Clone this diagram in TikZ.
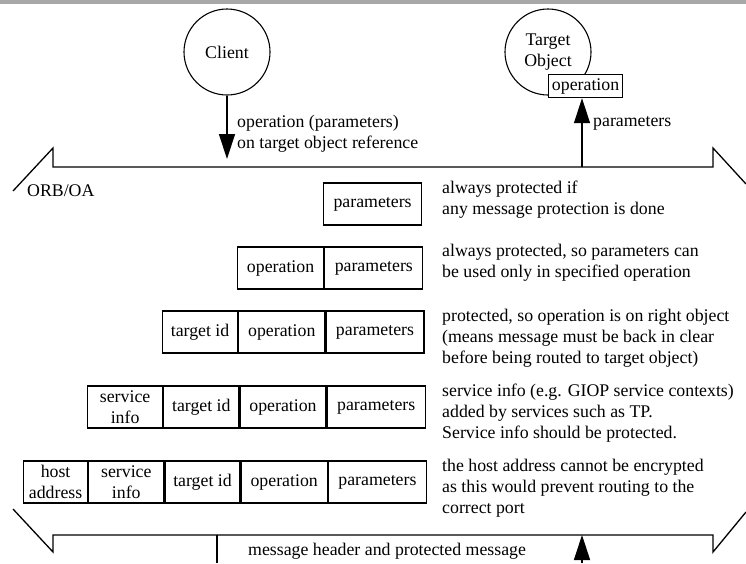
\documentclass[tikz,border=0pt]{standalone}
\usepackage{fontspec}
\setmainfont{Liberation Serif}
\newfontfamily\timesfont{Liberation Serif}
\usetikzlibrary{arrows.meta}
\definecolor{bargray}{RGB}{168,168,168}
\tikzset{
  every node/.style={font=\timesfont\fontsize{17.8}{21}\selectfont, inner sep=0pt},
  cell/.style={draw, line width=1.2pt, minimum height=42pt, align=center, anchor=west},
  note/.style={align=left, anchor=west},
  band/.style={line width=1.3pt},
  flow/.style={line width=1.3pt, -{Triangle[length=25pt,width=16pt]}},
  party/.style={draw, circle, line width=1.1pt, minimum size=86pt, align=center},
}
\begin{document}
\begin{tikzpicture}[x=1pt,y=-1pt]
\useasboundingbox (0,0) rectangle (746,563);
\fill[bargray] (0,0) rectangle (746,4);

% the two parties
\node[party] (client) at (227,52) {Client};
\node[party] (target) at (548,52) {Target\\Object};
\node[draw, fill=white, line width=1.2pt, minimum width=74pt, minimum height=23pt, anchor=north west] (opbox) at (548,74) {operation};

% ORB/OA band, broken off at both ends
\draw[band] (13,191) -- (53,148) -- (53,167) -- (713,167) -- (713,148) -- (746,184);
\draw[band] (13,509) -- (53,552) -- (53,535) -- (713,535) -- (713,552) -- (746,512);
\draw[band] (217,535) -- (217,563);
\node[note] (orb) at (27,191) {ORB/OA};

% request flow
\coordinate (ctip) at (227,159);
\draw[flow] (client.south) -- (ctip);
\node[note] (req) at (237,134) {operation (parameters)\\on target object reference};
\coordinate (pbase) at (582,167);
\draw[flow] (pbase) -- (pbase |- opbox.south);
\node[note] (parm) at (593,123) {parameters};
\coordinate (mbase) at (582,563);
\coordinate (mtip) at (582,535);
\draw[flow] (mbase) -- (mtip);
\node[note] (msg) at (248,551) {message header and protected message};

% row 1
\node[cell, minimum width=98pt] (p1) at (323,204) {parameters};
% row 2
\node[cell, minimum width=86pt] (o2) at (237,268) {operation};
\node[cell, minimum width=98pt] (p2) at (o2.east) {parameters};
% row 3
\node[cell, minimum width=75pt] (t3) at (162,332) {target id};
\node[cell, minimum width=86pt] (o3) at (t3.east) {operation};
\node[cell, minimum width=98pt] (p3) at (o3.east) {parameters};
% row 4
\node[cell, minimum width=75pt] (s4) at (87,407) {service\\info};
\node[cell, minimum width=75pt] (t4) at (s4.east) {target id};
\node[cell, minimum width=86pt] (o4) at (t4.east) {operation};
\node[cell, minimum width=98pt] (p4) at (o4.east) {parameters};
% row 5
\node[cell, minimum width=64pt] (h5) at (23,482) {host\\address};
\node[cell, minimum width=75pt] (s5) at (h5.east) {service\\info};
\node[cell, minimum width=75pt] (t5) at (s5.east) {target id};
\node[cell, minimum width=86pt] (o5) at (t5.east) {operation};
\node[cell, minimum width=98pt] (p5) at (o5.east) {parameters};

% explanations
\node[note] (n1) at (442,200) {always protected if\\any message protection is done};
\node[note] (n2) at (442,263) {always protected, so parameters can\\be used only in specified operation};
\node[note] (n3) at (442,338) {protected, so operation is on right object\\(means message must be back in clear\\before being routed to target object)};
\node[note] (n4) at (442,413) {service info (e.g. GIOP service contexts)\\added by services such as TP.\\Service info should be protected.};
\node[note] (n5) at (442,488) {the host address cannot be encrypted\\as this would prevent routing to the\\correct port};
\end{tikzpicture}
\end{document}
